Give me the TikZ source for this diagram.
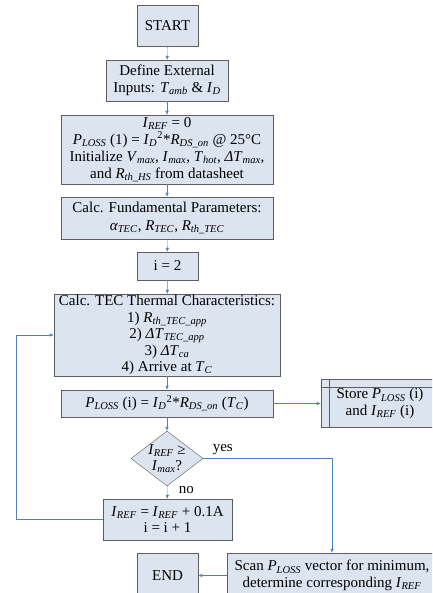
\documentclass[tikz,border=0pt]{standalone}
\usepackage{fontspec}
\setmainfont{Liberation Serif}
\usetikzlibrary{arrows.meta, shapes.geometric}

\definecolor{boxfill}{HTML}{DCE4F0}
\definecolor{boxline}{HTML}{5E5E5E}
\definecolor{flow}{HTML}{4F81BD}

\newcommand{\vsub}[2]{\textit{#1}\textsubscript{\textit{#2}}}

\begin{document}
\begin{tikzpicture}[
    x=1pt, y=-1pt,                                                   % pixel grid, y down
    every node/.style={font=\fontsize{15}{16.5}\selectfont},
    block/.style={rectangle, draw=boxline, fill=boxfill, align=center, inner sep=1pt},
    decision/.style={diamond, draw=boxline, fill=boxfill, inner sep=0pt},
    ->, draw=flow, >={Latex[length=4pt, width=3.5pt]}                % blue connectors, small tips
]
\useasboundingbox (0,0) rectangle (432,593);
\clip (0,0) rectangle (432,593);

% --- MAIN COLUMN ---
\node[block, minimum width=61, minimum height=41] (start) at (167.5,25.5) {START};
\node[block, minimum width=122, minimum height=41] (inputs) at (167,80.5) {Define External\\Inputs: \vsub{T}{amb} \& \vsub{I}{D}};
\node[block, minimum width=212, minimum height=69, font=\fontsize{15}{17}\selectfont] (init) at (167,149.5) {
    \vsub{I}{REF} = 0\\
    \vsub{P}{LOSS} (1) = \vsub{I}{D}\textsuperscript{2}*\vsub{R}{DS\_on} @ 25°C\\
    Initialize \vsub{V}{max}, \vsub{I}{max}, \vsub{T}{hot}, \vsub{ΔT}{max},\\
    and \vsub{R}{th\_HS} from datasheet};
\node[block, minimum width=212, minimum height=42, font=\fontsize{15}{18.5}\selectfont] (fund) at (167,218) {Calc. Fundamental Parameters:\\\vsub{α}{TEC}, \vsub{R}{TEC}, \vsub{R}{th\_TEC}};
\node[block, minimum width=61, minimum height=28] (iset) at (167.5,266) {i = 2};
\node[block, minimum width=226, minimum height=82] (thermal) at (167,335) {
    Calc. TEC Thermal Characteristics:\\
    1) \vsub{R}{th\_TEC\_app}\\
    2) \vsub{ΔT}{TEC\_app}\\
    3) \vsub{ΔT}{ca}\\
    4) Arrive at \vsub{T}{C}};
\node[block, minimum width=212, minimum height=27] (ploss) at (167,403.5) {\vsub{P}{LOSS} (i) = \vsub{I}{D}\textsuperscript{2}*\vsub{R}{DS\_on} (\vsub{T}{C})};

% --- DECISION ---
\node[decision, minimum width=72, minimum height=55] (check) at (167,458.5) {};
\node[align=center, inner sep=0pt] (checktext) at (check) {\vsub{I}{REF} ≥\\\vsub{I}{max}?};

\node[block, minimum width=129, minimum height=41] (incr) at (167.5,519.5) {\vsub{I}{REF} = \vsub{I}{REF} + 0.1A\\i = i + 1};

% --- SIDE BOXES ---
\node[block, minimum width=118, minimum height=48] (store) at (380,403.5) {Store \vsub{P}{LOSS} (i)\\and \vsub{I}{REF} (i)};
\draw[-, draw=boxline] ([xshift=8pt]store.north west) -- ([xshift=8pt]store.south west);  % storage marks
\draw[-, draw=boxline] ([yshift=-8pt]store.north west) -- ([yshift=-8pt]store.north east);
\node[block, minimum width=210, minimum height=45] (scan) at (332,575.5) {Scan \vsub{P}{LOSS} vector for minimum,\\determine corresponding \vsub{I}{REF}};
\node[block, minimum width=61, minimum height=45] (finish) at (167.5,575.5) {END};

% --- CONNECTORS ---
\draw (start) -- (inputs);
\draw (inputs) -- (init);
\draw (init) -- (fund);
\draw (fund) -- (iset);
\draw (iset) -- (thermal);
\draw (thermal) -- (ploss);
\draw (ploss) -- (check);
\draw (ploss) -- (store);
\draw (check.east) -| node[pos=0.076, above] {yes} (scan.north);
\draw (check) -- node[right, pos=0.3, xshift=8pt] {no} (incr);
\coordinate (loop) at (16,0);
\draw (incr.west) -| (loop |- thermal.west) -- (thermal.west);    % back to thermal step
\draw (scan) -- (finish);

\end{tikzpicture}
\end{document}
